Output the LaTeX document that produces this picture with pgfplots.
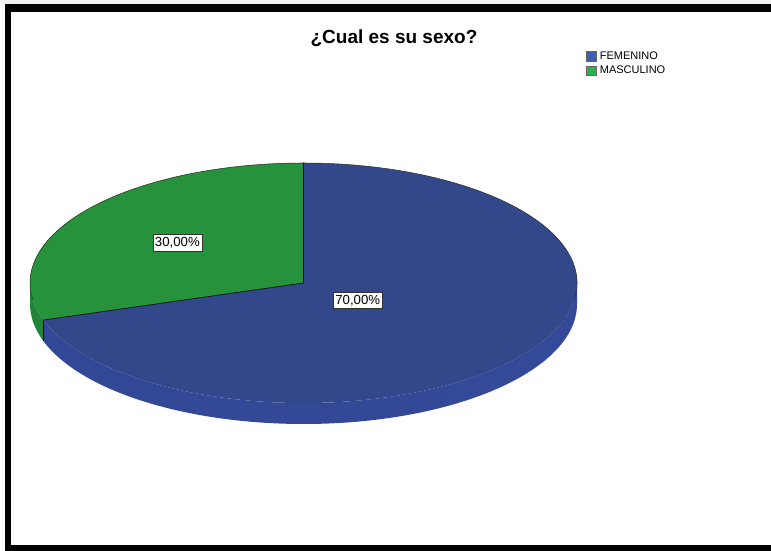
\documentclass[border=0pt]{standalone}
\usepackage{fontspec}
\setmainfont{Liberation Sans}
\usepackage{pgfplots}
\usepackage{pgfplotstable}
\pgfplotsset{compat=1.18}

\definecolor{femtop}{RGB}{51,72,139}
\definecolor{femsideA}{RGB}{50,72,150}
\definecolor{femsideB}{RGB}{62,88,170}
\definecolor{femsideC}{RGB}{52,74,152}
\definecolor{mastop}{RGB}{38,146,60}
\definecolor{masside}{RGB}{33,132,54}
\definecolor{legfem}{RGB}{62,92,180}
\definecolor{legmas}{RGB}{46,176,75}

% percentages per category, label distance from centre (fraction of radius)
\pgfplotstableread{
sexo      value labelpos
MASCULINO 30    0.57
FEMENINO  70    0.245
}\sexotable

\pgfplotstablegetelem{0}{value}\of\sexotable \edef\vM{\pgfplotsretval}
\pgfplotstablegetelem{1}{value}\of\sexotable \edef\vF{\pgfplotsretval}
\pgfplotstablegetelem{0}{labelpos}\of\sexotable \edef\pM{\pgfplotsretval}
\pgfplotstablegetelem{1}{labelpos}\of\sexotable \edef\pF{\pgfplotsretval}

% pie geometry (1 axis unit = 1pt)
\def\cx{303.5}\def\cy{268}
\pgfmathsetmacro\aA{90}
\pgfmathsetmacro\aB{\aA+3.6*\vM}
\pgfmathsetmacro\aC{\aB+3.6*\vF}
\pgfmathsetmacro\mM{(\aA+\aB)/2}
\pgfmathsetmacro\mF{(\aB+\aC)/2}
\pgfmathsetmacro\lMx{\cx+\pM*273.5*cos(\mM)}
\pgfmathsetmacro\lMy{\cy+\pM*120*sin(\mM)}
\pgfmathsetmacro\lFx{\cx+\pF*273.5*cos(\mF)}
\pgfmathsetmacro\lFy{\cy+\pF*120*sin(\mF)}

\tikzset{plabel/.style={draw=black!80, fill=white, line width=0.5pt,
    font=\fontsize{13.2}{14}\selectfont, inner xsep=2.2pt, inner ysep=2.8pt,
    text height=9.5pt, text depth=1.6pt}}

\begin{document}
\begin{tikzpicture}
\begin{axis}[
    width=771pt, height=551pt, scale only axis,
    xmin=0, xmax=771, ymin=0, ymax=551,
    hide axis, clip=false,
    legend style={at={(axis cs:585.5,501.6)}, anchor=north west,
        draw=none, fill=none, inner sep=0pt,
        font=\fontsize{11}{12}\selectfont, row sep=1.3pt,
        /tikz/every odd column/.style={column sep=2pt}},
    legend cell align=left,
    legend image code/.code={\draw[#1] (0pt,-4.9pt) rectangle (9.8pt,4.9pt);},
]
\path (axis cs:0,0) rectangle (axis cs:771,551);

% frame
\fill[gray!12] (axis cs:0,547) rectangle (axis cs:771,551);
\fill[black] (axis cs:5,0) rectangle (axis cs:11,547);
\fill[black] (axis cs:5,539) rectangle (axis cs:771,547);
\fill[black] (axis cs:5,0) rectangle (axis cs:771,6);

% side of the pie (front half)
\fill[masside] (axis cs:\cx,\cy) ++(180:273.5pt and 120pt)
    arc[start angle=180, end angle=\aB, x radius=273.5pt, y radius=120pt]
    -- ++(0pt,-21pt)
    arc[start angle=\aB, end angle=180, x radius=273.5pt, y radius=120pt] -- cycle;
\shade[left color=femsideA, middle color=femsideB, right color=femsideC]
    (axis cs:\cx,\cy) ++(\aB:273.5pt and 120pt)
    arc[start angle=\aB, end angle=360, x radius=273.5pt, y radius=120pt]
    -- ++(0pt,-21pt)
    arc[start angle=360, end angle=\aB, x radius=273.5pt, y radius=120pt] -- cycle;
\draw[black, line width=0.5pt] (axis cs:\cx,\cy) ++(\aB:273.5pt and 120pt) -- ++(0pt,-21pt);

% top of the pie
\fill[mastop] (axis cs:\cx,\cy) -- ++(\aA:273.5pt and 120pt)
    arc[start angle=\aA, end angle=\aB, x radius=273.5pt, y radius=120pt] -- cycle;
\fill[femtop] (axis cs:\cx,\cy) -- ++(\aB:273.5pt and 120pt)
    arc[start angle=\aB, end angle=\aC, x radius=273.5pt, y radius=120pt] -- cycle;
\draw[black, line width=0.6pt] (axis cs:\cx,\cy) ++(\aA:273.5pt and 120pt)
    -- (axis cs:\cx,\cy) -- ++(\aB:273.5pt and 120pt);
\draw[black!85, line width=0.5pt] (axis cs:\cx,\cy) ++(-8:273.5pt and 120pt)
    arc[start angle=-8, end angle=188, x radius=273.5pt, y radius=120pt];

% value labels
\node[plabel] at (axis cs:\lMx,\lMy)
    {\pgfmathprintnumber[fixed, fixed zerofill, precision=2, use comma, assume math mode=true]{\vM}\%};
\node[plabel] at (axis cs:\lFx,\lFy)
    {\pgfmathprintnumber[fixed, fixed zerofill, precision=2, use comma, assume math mode=true]{\vF}\%};

% title
\node[anchor=base, font=\fontsize{19}{22}\selectfont\bfseries]
    at (axis cs:394,507) {¿Cual es su sexo?};

\addlegendimage{fill=legfem, draw=black!60, line width=0.4pt}
\addlegendentry{FEMENINO}
\addlegendimage{fill=legmas, draw=black!60, line width=0.4pt}
\addlegendentry{MASCULINO}
\end{axis}
\end{tikzpicture}
\end{document}
